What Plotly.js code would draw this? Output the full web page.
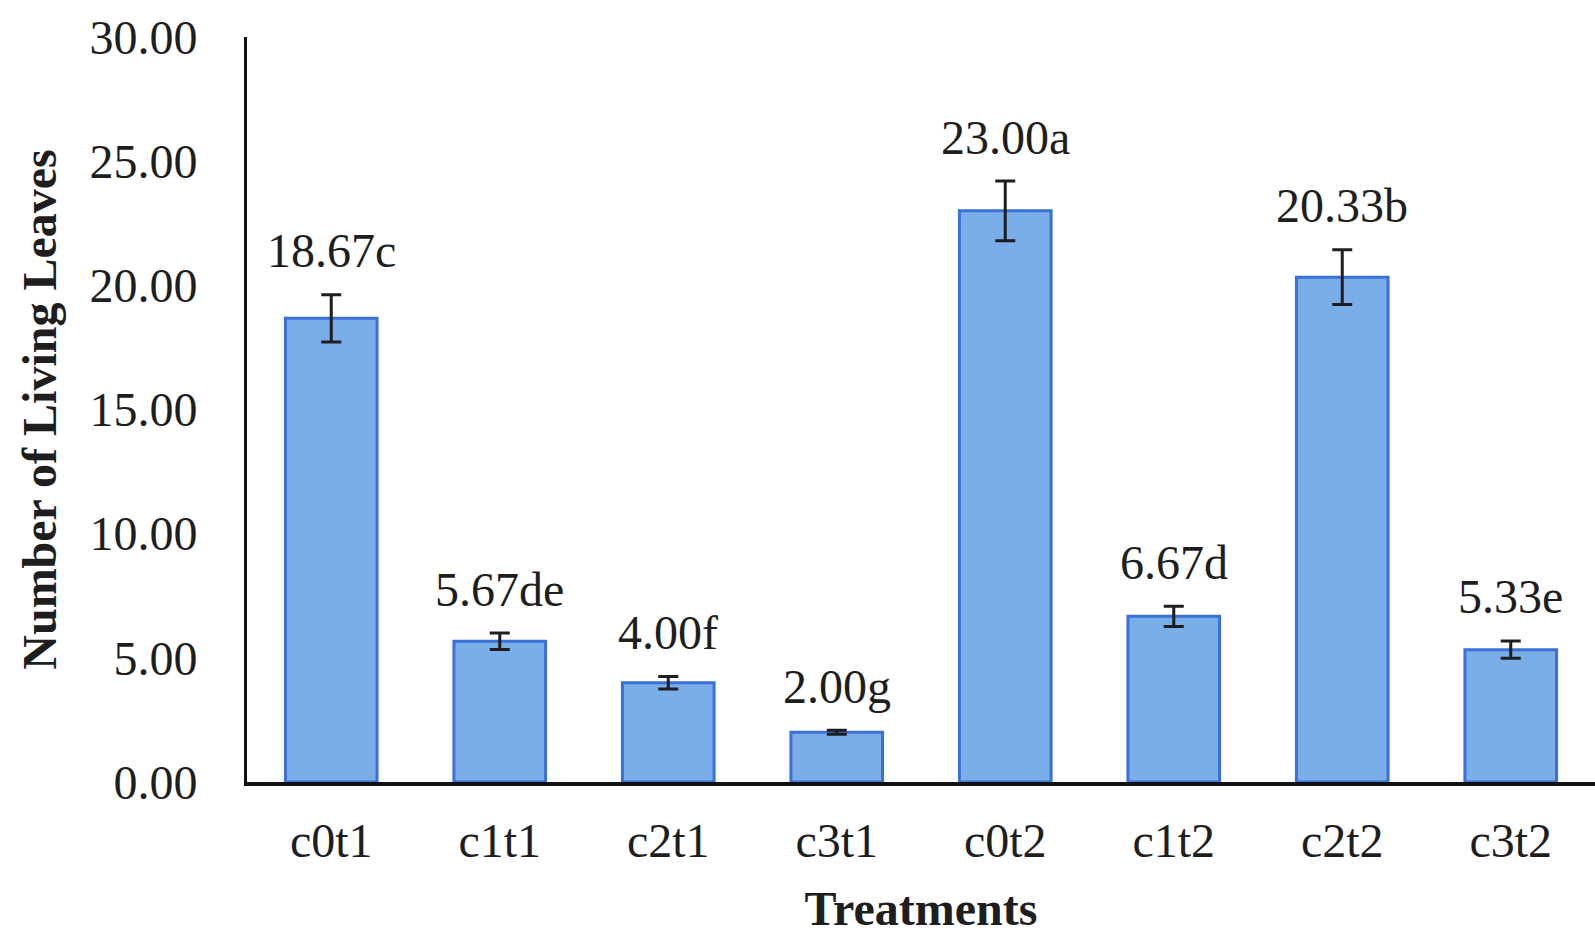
<!DOCTYPE html>
<html>
<head>
<meta charset="utf-8">
<script src="https://cdn.plot.ly/plotly-3.0.1.min.js"></script>
<style>html,body{margin:0;padding:0;background:#fff;}#chart{width:1595px;height:937px;}</style>
</head>
<body>
<div id="chart"></div>
<script>
const categories = ["c0t1", "c1t1", "c2t1", "c3t1", "c0t2", "c1t2", "c2t2", "c3t2"];
const meanLeaves = [18.67, 5.67, 4.00, 2.00, 23.00, 6.67, 20.33, 5.33];
const errorValues = [0.95, 0.33, 0.25, 0.08, 1.2, 0.41, 1.1, 0.35];
const letterGroups = ["c", "de", "f", "g", "a", "d", "b", "e"];
const yTickValues = [0, 5, 10, 15, 20, 25, 30];

const FONT = "Liberation Serif, Times New Roman, serif";
const TXT = "#1e1e1e";

const trace = {
  type: "bar",
  x: categories,
  y: meanLeaves,
  marker: {color: "#7aaee8", line: {color: "#3a70d8", width: 3}},
  error_y: {type: "data", array: errorValues, visible: true, color: "#1e1e1e", thickness: 3, width: 10},
  hoverinfo: "x+y"
};

const annotations = categories.map((c, i) => ({
  x: c,
  y: meanLeaves[i] + errorValues[i],
  xref: "x", yref: "y",
  text: meanLeaves[i].toFixed(2) + letterGroups[i],
  showarrow: false,
  yanchor: "middle",
  yshift: 44,
  font: {family: FONT, size: 48, color: TXT}
}));

const layout = {
  width: 1595, height: 937,
  margin: {l: 247, r: 0, t: 37, b: 155},
  paper_bgcolor: "#ffffff", plot_bgcolor: "#ffffff",
  showlegend: false,
  bargap: 0.456,
  font: {family: FONT, size: 48, color: TXT},
  xaxis: {
    type: "category",
    range: [-0.5, 7.5],
    showline: true, linecolor: "#111", linewidth: 4,
    ticks: "", showgrid: false, zeroline: false,
    tickfont: {family: FONT, size: 48, color: TXT},
    ticklabelstandoff: 13,
    title: {text: "<b>Treatments</b>", font: {family: FONT, size: 48, color: TXT}, standoff: 27},
    automargin: false
  },
  yaxis: {
    range: [0, 30],
    tickvals: yTickValues,
    tickformat: ".2f",
    showline: true, linecolor: "#111", linewidth: 3,
    ticks: "", showgrid: false, zeroline: false,
    tickfont: {family: FONT, size: 48, color: TXT},
    ticklabelstandoff: 37,
    title: {text: "<b>Number of Living Leaves</b>", font: {family: FONT, size: 48, color: TXT}, standoff: 18},
    automargin: false
  },
  annotations: annotations
};

Plotly.newPlot("chart", [trace], layout, {displayModeBar: false, staticPlot: true});
</script>
</body>
</html>
